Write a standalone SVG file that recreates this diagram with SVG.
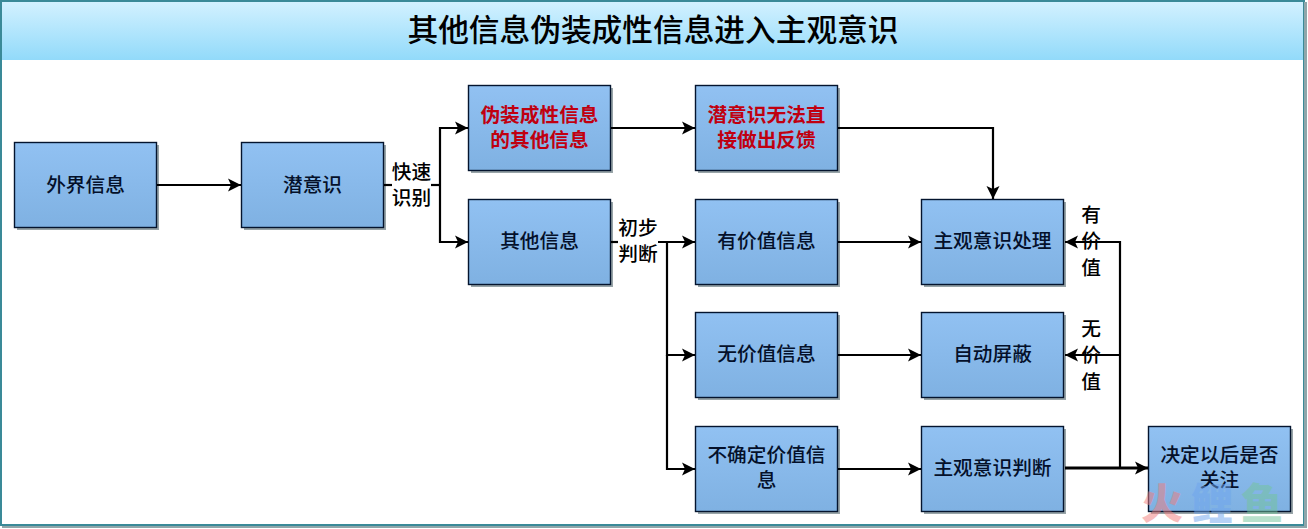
<svg xmlns="http://www.w3.org/2000/svg" width="1308" height="529" viewBox="0 0 1308 529">
<defs>
<linearGradient id="tb" x1="0" y1="0" x2="0" y2="1"><stop offset="0" stop-color="#d2f1ff"/><stop offset="1" stop-color="#92dafa"/></linearGradient>
<linearGradient id="bx" x1="0" y1="0" x2="0" y2="1"><stop offset="0" stop-color="#91c1f2"/><stop offset="1" stop-color="#7fb1e2"/></linearGradient>
<marker id="ah" markerUnits="userSpaceOnUse" markerWidth="14" markerHeight="14" refX="13" refY="7" orient="auto"><path d="M0 0.5L13 7L0 13.5L3 7Z" fill="#000"/></marker>
</defs>
<style>
.bg{fill:#fff;stroke:#3a8a98;stroke-width:2}
.s{fill:#98a4a8}
.b{fill:url(#bx);stroke:#04142e;stroke-width:1.4}
text{font-family:"Noto Sans CJK SC","Liberation Sans",sans-serif;font-size:19.700px;text-anchor:middle;fill:#000;font-weight:500}
.t{font-size:30.700px;font-weight:500}
.r{fill:#c00010;font-weight:700}
.n{fill:#04102a}
.c{fill:none;stroke:#000;stroke-width:2.2}
.a{marker-end:url(#ah)}
.w{font-size:42px;font-weight:900;opacity:.5}
</style>
<rect class="bg" x="1" y="1" width="1303" height="524"/>
<rect x="1304" y="2" width="3" height="526" fill="#8fa6aa"/>
<rect x="2" y="526" width="1305" height="2" fill="#8fa6aa"/>
<rect id="title-bar" x="2" y="2" width="1301" height="58" fill="url(#tb)"/>
<text class="t" x="653" y="41">其他信息伪装成性信息进入主观意识</text>
<g id="n1"><rect class="s" x="17" y="145" width="142" height="85"/><rect class="b" x="14.500" y="142.500" width="142" height="85"/><text class="n" x="85.500" y="192">外界信息</text></g>
<g id="n2"><rect class="s" x="244" y="145" width="142" height="85"/><rect class="b" x="241.500" y="142.500" width="142" height="85"/><text class="n" x="312.500" y="192">潜意识</text></g>
<g id="n3"><rect class="s" x="471" y="88" width="142" height="85"/><rect class="b" x="468.500" y="85.500" width="142" height="85"/><text class="r" x="539.500" y="122">伪装成性信息</text><text class="r" x="539.500" y="147">的其他信息</text></g>
<g id="n4"><rect class="s" x="698" y="88" width="142" height="85"/><rect class="b" x="695.500" y="85.500" width="142" height="85"/><text class="r" x="766.500" y="122">潜意识无法直</text><text class="r" x="766.500" y="147">接做出反馈</text></g>
<g id="n5"><rect class="s" x="471" y="202" width="142" height="85"/><rect class="b" x="468.500" y="199.500" width="142" height="85"/><text class="n" x="539.500" y="248">其他信息</text></g>
<g id="n6"><rect class="s" x="698" y="202" width="142" height="85"/><rect class="b" x="695.500" y="199.500" width="142" height="85"/><text class="n" x="766.500" y="248">有价值信息</text></g>
<g id="n7"><rect class="s" x="698" y="315" width="142" height="85"/><rect class="b" x="695.500" y="312.500" width="142" height="85"/><text class="n" x="766.500" y="361">无价值信息</text></g>
<g id="n8"><rect class="s" x="698" y="429" width="142" height="85"/><rect class="b" x="695.500" y="426.500" width="142" height="85"/><text class="n" x="766.500" y="462">不确定价值信</text><text class="n" x="766.500" y="487">息</text></g>
<g id="n9"><rect class="s" x="924" y="202" width="142" height="85"/><rect class="b" x="921.500" y="199.500" width="142" height="85"/><text class="n" x="992.500" y="248">主观意识处理</text></g>
<g id="n10"><rect class="s" x="924" y="315" width="142" height="85"/><rect class="b" x="921.500" y="312.500" width="142" height="85"/><text class="n" x="992.500" y="361">自动屏蔽</text></g>
<g id="n11"><rect class="s" x="924" y="429" width="142" height="85"/><rect class="b" x="921.500" y="426.500" width="142" height="85"/><text class="n" x="992.500" y="475">主观意识判断</text></g>
<g id="n12"><rect class="s" x="1151" y="429" width="142" height="85"/><rect class="b" x="1148.500" y="426.500" width="142" height="85"/><text class="n" x="1219.500" y="462">决定以后是否</text><text class="n" x="1219.500" y="487">关注</text></g>
<g id="connectors">
<path class="c a" d="M157 185H241"/>
<path class="c" d="M384 185H392"/>
<path class="c" d="M431 185H440"/>
<path class="c a" d="M440 185V128H468"/>
<path class="c a" d="M440 185V242H468"/>
<path class="c a" d="M611 128H695"/>
<path class="c a" d="M838 128H993V199"/>
<path class="c" d="M611 242H618"/>
<path class="c a" d="M658 242H695"/>
<path class="c a" d="M667 242V355H695"/>
<path class="c a" d="M667 355V469H695"/>
<path class="c a" d="M838 242H921"/>
<path class="c a" d="M838 355H921"/>
<path class="c a" d="M838 469H921"/>
<path class="c a" d="M1065 468H1148" style="stroke-width:3"/>
<path class="c a" d="M1120 468V242H1065"/>
<path class="c a" d="M1120 355H1065"/>
</g>
<g id="labels">
<text x="411.500" y="179">快速</text><text x="411.500" y="205">识别</text>
<text x="638" y="235">初步</text><text x="638" y="261">判断</text>
<text x="1091" y="222">有</text><text x="1091" y="248">价</text><text x="1091" y="275">值</text>
<text x="1091" y="336">无</text><text x="1091" y="362">价</text><text x="1091" y="389">值</text>
</g>
<g id="watermark">
<text class="w" x="1162" y="519" style="fill:#f27c7c">火</text>
<text class="w" x="1212" y="519" style="fill:#6fa5ee">鲤</text>
<text class="w" x="1262" y="519" style="fill:#74c49a">鱼</text>
</g>
</svg>
